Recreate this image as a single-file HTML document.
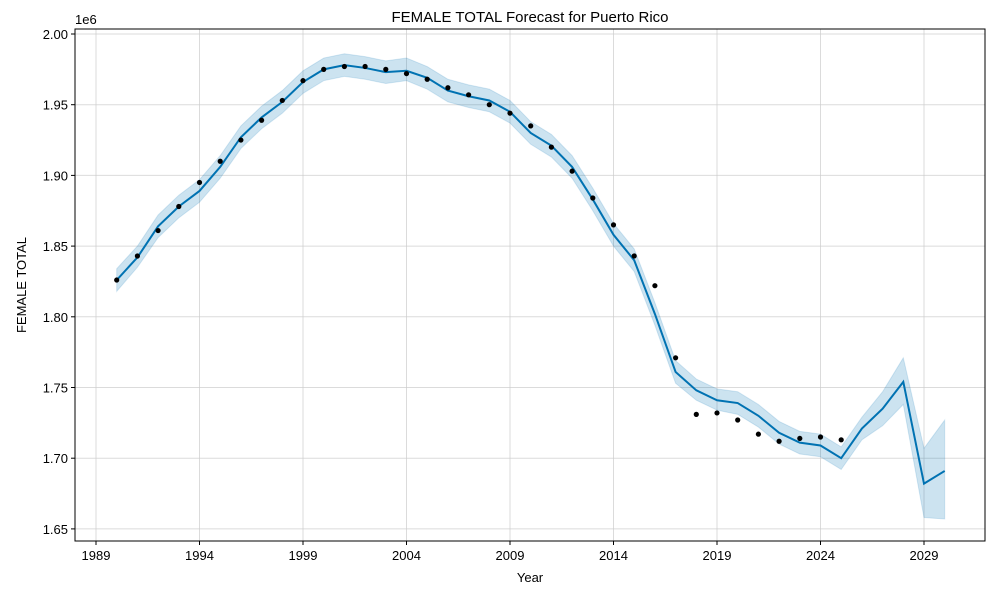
<!DOCTYPE html>
<html><head><meta charset="utf-8"><style>
body{margin:0;background:#fff;font-family:"Liberation Sans",sans-serif}
svg text{font-family:"Liberation Sans",sans-serif;fill:#000}
</style></head><body>
<svg id="chart" width="1000" height="600">
<rect width="1000" height="600" fill="#fff"/>
<g id="grid"></g>
<path id="band" fill="#0072B2" fill-opacity="0.2" stroke="#0072B2" stroke-opacity="0.15"/>
<path id="line" fill="none" stroke="#0072B2" stroke-width="2"/>
<g id="pts"></g>
<rect x="75" y="29" width="910" height="512" fill="none" stroke="#000" stroke-width="1"/>
<g id="ticks"></g>
<text x="530" y="22" text-anchor="middle" font-size="15">FEMALE TOTAL Forecast for Puerto Rico</text>
<text x="530" y="582" text-anchor="middle" font-size="13">Year</text>
<text x="26" y="285" text-anchor="middle" font-size="13" transform="rotate(-90 26 285)">FEMALE TOTAL</text>
<text x="75" y="24" font-size="13">1e6</text>
</svg>
<script>
const obsYears=[1990,1991,1992,1993,1994,1995,1996,1997,1998,1999,2000,2001,2002,2003,2004,2005,2006,2007,2008,2009,2010,2011,2012,2013,2014,2015,2016,2017,2018,2019,2020,2021,2022,2023,2024,2025];
const obsValues=[1.826,1.843,1.861,1.878,1.895,1.910,1.925,1.939,1.953,1.967,1.975,1.977,1.977,1.975,1.972,1.968,1.962,1.957,1.950,1.944,1.935,1.920,1.903,1.884,1.865,1.843,1.822,1.771,1.731,1.732,1.727,1.717,1.712,1.714,1.715,1.713];
const fcYears=[1990,1991,1992,1993,1994,1995,1996,1997,1998,1999,2000,2001,2002,2003,2004,2005,2006,2007,2008,2009,2010,2011,2012,2013,2014,2015,2016,2017,2018,2019,2020,2021,2022,2023,2024,2025,2026,2027,2028,2029,2030];
const fcValues=[1.826,1.842,1.864,1.878,1.889,1.906,1.927,1.941,1.952,1.966,1.975,1.978,1.976,1.973,1.974,1.969,1.960,1.956,1.953,1.945,1.930,1.921,1.906,1.883,1.858,1.840,1.802,1.761,1.748,1.741,1.739,1.730,1.718,1.711,1.709,1.700,1.721,1.735,1.754,1.682,1.691];
const fcLower=[1.818,1.835,1.856,1.870,1.881,1.898,1.919,1.933,1.944,1.958,1.967,1.970,1.968,1.965,1.967,1.961,1.952,1.948,1.945,1.937,1.922,1.913,1.898,1.875,1.850,1.832,1.794,1.753,1.741,1.734,1.731,1.722,1.710,1.703,1.701,1.692,1.713,1.723,1.738,1.658,1.657];
const fcUpper=[1.834,1.850,1.872,1.886,1.897,1.914,1.935,1.949,1.960,1.974,1.983,1.986,1.984,1.981,1.983,1.977,1.968,1.964,1.961,1.953,1.938,1.929,1.914,1.891,1.866,1.848,1.810,1.769,1.756,1.749,1.747,1.738,1.726,1.719,1.717,1.708,1.729,1.747,1.771,1.707,1.727];
const xTicks=[1989,1994,1999,2004,2009,2014,2019,2024,2029];
const yTicks=[1.65,1.70,1.75,1.80,1.85,1.90,1.95,2.00];
const X=y=>96+(y-1989)*20.7;
const Y=v=>34+(2.0-v)/0.05*70.7;
const NS='http://www.w3.org/2000/svg';
const grid=document.getElementById('grid'),ticks=document.getElementById('ticks'),pts=document.getElementById('pts');
function mk(tag,attrs,parent){const e=document.createElementNS(NS,tag);for(const k in attrs)e.setAttribute(k,attrs[k]);parent.appendChild(e);return e;}
xTicks.forEach(t=>{
  const g=mk('line',{x1:X(t),x2:X(t),y1:29,y2:541,stroke:'#ccc','stroke-width':1,'stroke-opacity':0.7},grid);
  
  
  mk('line',{x1:X(t),x2:X(t),y1:541,y2:545,stroke:'#000'},ticks);
  const tx=mk('text',{x:X(t),y:560,'text-anchor':'middle','font-size':13},ticks);
  tx.textContent=t;
  
  
});
yTicks.forEach(t=>{
  const g=mk('line',{x1:75,x2:985,y1:Y(t),y2:Y(t),stroke:'#ccc','stroke-width':1,'stroke-opacity':0.7},grid);
  
  
  mk('line',{x1:71,x2:75,y1:Y(t),y2:Y(t),stroke:'#000'},ticks);
  const tx=mk('text',{x:68,y:Y(t)+5,'text-anchor':'end','font-size':13},ticks);
  tx.textContent=t.toFixed(2);
  
  
});
let d='';fcYears.forEach((y,i)=>{d+=(i?'L':'M')+X(y)+','+Y(fcUpper[i]);});
for(let i=fcYears.length-1;i>=0;i--)d+='L'+X(fcYears[i])+','+Y(fcLower[i]);
document.getElementById('band').setAttribute('d',d+'Z');
let l='';fcYears.forEach((y,i)=>{l+=(i?'L':'M')+X(y)+','+Y(fcValues[i]);});
document.getElementById('line').setAttribute('d',l);
obsYears.forEach((y,i)=>{
  const c=mk('circle',{cx:X(y),cy:Y(obsValues[i]),r:2.6,fill:'#000'},pts);
  
  
});
</script>
</body></html>
